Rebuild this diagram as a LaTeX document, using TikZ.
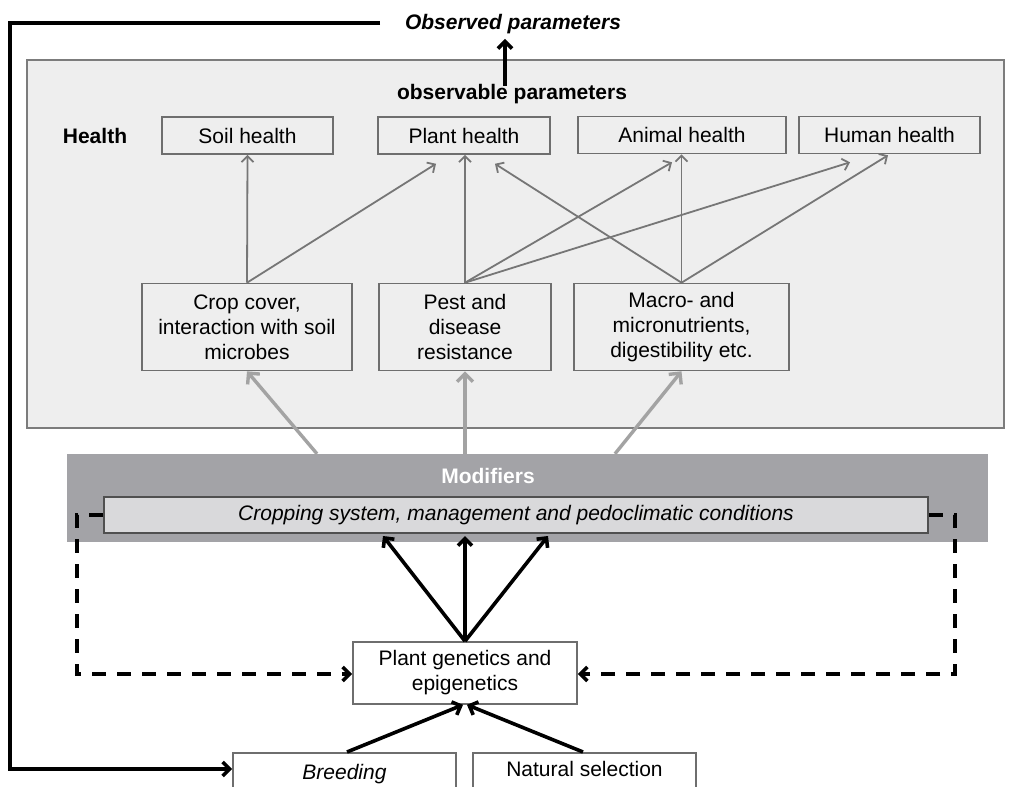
\documentclass[tikz,border=0pt]{standalone}
\usepackage{fontspec}
\setmainfont{Liberation Sans}
\usetikzlibrary{arrows.meta}
\definecolor{bigfill}{HTML}{EEEEEE}
\definecolor{bigline}{HTML}{7C7C7C}
\definecolor{boxline}{HTML}{6E6E6E}
\definecolor{thinarrow}{HTML}{767676}
\definecolor{thickarrow}{HTML}{A3A3A3}
\definecolor{modfill}{HTML}{A3A3A7}
\definecolor{cropfill}{HTML}{D9D9DB}
\definecolor{cropline}{HTML}{505050}
\begin{document}
\begin{tikzpicture}[x=1pt,y=-1pt,
  every node/.style={font=\fontsize{21}{25}\selectfont},
  hbox/.style={draw=boxline, line width=1.6pt, fill=bigfill, minimum height=37pt, inner sep=0pt, align=center},
  tbox/.style={draw=boxline, line width=1.6pt, fill=bigfill, minimum height=87pt, inner sep=0pt, align=center},
  wbox/.style={draw=boxline, line width=1.6pt, fill=white, inner sep=0pt, align=center},
  thinarr/.style={draw=thinarrow, line width=1.8pt, -{Straight Barb[length=6pt,width=12pt]}},
  thickarr/.style={draw=thickarrow, line width=3.4pt, -{Straight Barb[length=8pt,width=16pt]}},
  blackarr/.style={draw=black, line width=3.6pt, -{Straight Barb[length=7pt,width=14pt]}},
  dasharr/.style={draw=black, line width=3.6pt, dash pattern=on 14pt off 11pt, -{Straight Barb[length=7pt,width=14pt]}}
]
\useasboundingbox (0,0) rectangle (1013,787);
\clip (0,0) rectangle (1013,787);
\fill[white] (0,0) rectangle (1013,787);

% big health panel
\node[draw=bigline, fill=bigfill, line width=2.4pt, minimum width=977pt, minimum height=368pt, inner sep=0pt] (panel) at (515.5,244) {};

% top labels
\node[inner sep=0pt, font=\fontsize{21}{25}\selectfont\bfseries\itshape] (obsd) at (513,24) {Observed parameters};
\node[inner sep=0pt, font=\fontsize{21}{25}\selectfont\bfseries] (obsable) at (512,94) {observable parameters};
\node[inner sep=0pt, font=\fontsize{21}{25}\selectfont\bfseries] (healthlbl) at (95,136) {Health};

% health boxes
\node[hbox, minimum width=171pt] (soil) at (247.5,135.5) {Soil health};
\node[hbox, minimum width=172pt] (plant) at (464,135.5) {Plant health};
\node[hbox, minimum width=208pt] (animal) at (682,135) {Animal health};
\node[hbox, minimum width=181pt] (human) at (889.5,135) {Human health};

% trait boxes
\node[tbox, minimum width=210pt] (crop) at (247,327) {Crop cover,\\interaction with soil\\microbes};
\node[tbox, minimum width=172pt, minimum height=87pt] (pest) at (465,327) {Pest and\\disease\\resistance};
\node[tbox, minimum width=215pt] (macro) at (681.5,327) {Macro- and\\micronutrients,\\digestibility etc.};

% thin gray arrows
\draw[thinarr] (crop.north) -- (soil.south);
\draw[thinarr] (crop.north) -- ([xshift=-28pt,yshift=-9pt]plant.south);
\draw[thinarr] (pest.north) -- ([xshift=1pt]plant.south);
\draw[thinarr] (macro.north) -- ([xshift=31pt,yshift=-9pt]plant.south);
\draw[thinarr] (pest.north) -- ([xshift=-10pt,yshift=-8pt]animal.south);
\draw[thinarr] (pest.north) -- ([xshift=-39.5pt,yshift=-8pt]human.south);
\draw[thinarr] (macro.north) -- ([xshift=-0.5pt]animal.south);
\draw[thinarr] (macro.north) -- ([xshift=-1.5pt,yshift=-1pt]human.south);

% modifiers band
\node[fill=modfill, minimum width=921pt, minimum height=88pt, inner sep=0pt] (mod) at (527.5,498) {};
\node[inner sep=0pt, text=white, font=\fontsize{21}{25}\selectfont\bfseries] (modlbl) at (488,476) {Modifiers};
\node[draw=cropline, fill=cropfill, line width=2pt, minimum width=824pt, minimum height=36pt, inner sep=0pt, font=\fontsize{21}{25}\selectfont\itshape] (cropsys) at (516,515) {Cropping system, management and pedoclimatic conditions};

% thick gray arrows
\draw[thickarr] ([xshift=-210.5pt]mod.north) -- (crop.south);
\draw[thickarr] ([xshift=-62.5pt]mod.north) -- (pest.south);
\draw[thickarr] ([xshift=87.5pt]mod.north) -- (macro.south);

% observable -> observed
\draw[blackarr] ([xshift=-7pt,yshift=-2pt]obsable.north) -- ([xshift=-8pt,yshift=-5pt]obsd.south);

% plant genetics
\node[wbox, minimum width=224pt, minimum height=62pt] (gen) at (465,673) {Plant genetics and\\epigenetics};

\draw[blackarr] (gen.north) -- ([xshift=-133pt,yshift=-2pt]cropsys.south);
\draw[blackarr] (gen.north) -- ([xshift=-51pt,yshift=-2pt]cropsys.south);
\draw[blackarr] (gen.north) -- ([xshift=32pt,yshift=-2pt]cropsys.south);

% dashed feedback
\coordinate (lcorner) at (77,515);
\coordinate (rcorner) at (955,515);
\draw[dasharr] (cropsys.west) -- (lcorner) |- ([yshift=-1pt]gen.west);
\draw[dasharr] (cropsys.east) -- (rcorner) |- ([yshift=-1pt]gen.east);

% bottom boxes
\node[wbox, anchor=north, minimum width=223pt, text height=22.5pt, text depth=40pt, inner ysep=4pt, font=\fontsize{21}{25}\selectfont\itshape] (breed) at (344.5,752) {Breeding};
\node[wbox, anchor=north, minimum width=223pt, text height=19.5pt, text depth=40pt, inner ysep=4pt] (natsel) at (584.5,752) {Natural selection};

\draw[blackarr] ([xshift=2.5pt]breed.north) -- ([xshift=-2pt]gen.south);
\draw[blackarr] ([xshift=-1.5pt]natsel.north) -- ([xshift=2pt]gen.south);

% observed feedback loop
\coordinate (loopstart) at (380,23);
\coordinate (loopcorner) at (10,23);
\draw[blackarr] (loopstart) -- (loopcorner) |- ([yshift=-17pt]breed.north west);
\end{tikzpicture}
\end{document}
